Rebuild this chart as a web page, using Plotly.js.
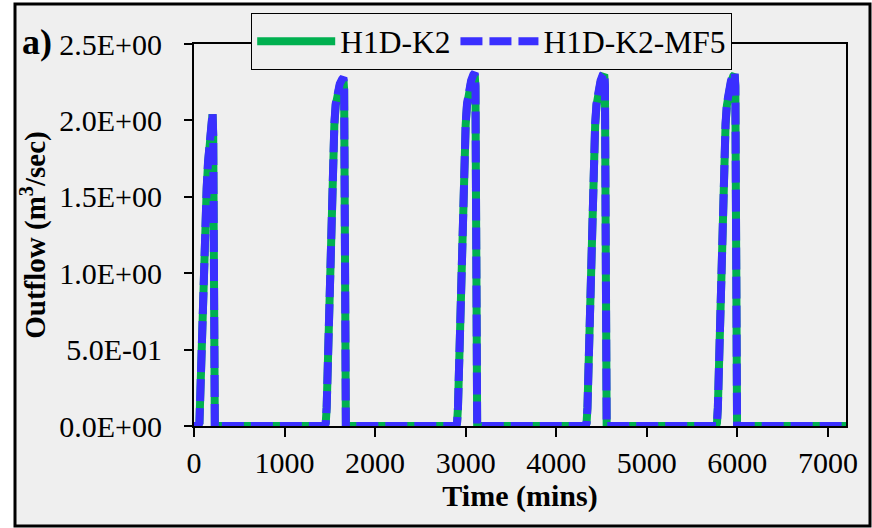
<!DOCTYPE html>
<html>
<head>
<meta charset="utf-8">
<script src="https://cdn.plot.ly/plotly-3.0.1.min.js"></script>
<style>
  html, body { margin: 0; padding: 0; background: #ffffff; }
  #chart { width: 872px; height: 528px; }
</style>
</head>
<body>
<div id="chart"></div>
<script>
// ---- Data (time in minutes, outflow in m3/s) ----
const timeMins = [
  0, 40, 60, 68, 80, 95, 110, 125, 140, 155, 170, 185, 197, 205, 212, 220, 230,
  1445, 1455, 1465, 1475, 1490, 1505, 1520, 1535, 1550, 1565, 1585, 1610, 1635, 1650, 1658, 1667, 1677,
  2895, 2905, 2915, 2925, 2940, 2955, 2970, 2985, 3000, 3015, 3035, 3060, 3085, 3100, 3108, 3117, 3127,
  4325, 4335, 4345, 4355, 4370, 4385, 4400, 4415, 4430, 4445, 4465, 4490, 4515, 4530, 4538, 4547, 4557,
  5765, 5775, 5785, 5795, 5810, 5825, 5840, 5855, 5870, 5885, 5905, 5930, 5955, 5970, 5978, 5987, 5997,
  7200
];
const outflowK2 = [
  0, 0, 0.02, 0.20, 0.55, 0.88, 1.12, 1.35, 1.55, 1.72, 1.85, 1.95, 2.02, 2.04, 1.90, 0.90, 0,
  0, 0.02, 0.12, 0.40, 0.80, 1.12, 1.45, 1.75, 1.97, 2.10, 2.18, 2.23, 2.26, 2.27, 2.20, 1.00, 0,
  0, 0.02, 0.12, 0.40, 0.80, 1.12, 1.45, 1.75, 1.97, 2.10, 2.19, 2.25, 2.29, 2.30, 2.22, 1.00, 0,
  0, 0.02, 0.12, 0.40, 0.80, 1.12, 1.45, 1.75, 1.97, 2.10, 2.19, 2.25, 2.29, 2.30, 2.22, 1.00, 0,
  0, 0.02, 0.12, 0.40, 0.80, 1.12, 1.45, 1.75, 1.97, 2.10, 2.19, 2.25, 2.29, 2.30, 2.22, 1.00, 0,
  0
];
const outflowMF5 = [
  0, 0, 0.02, 0.21, 0.56, 0.89, 1.13, 1.36, 1.56, 1.73, 1.86, 1.96, 2.03, 2.05, 1.91, 0.90, 0,
  0, 0.02, 0.12, 0.41, 0.81, 1.13, 1.46, 1.76, 1.98, 2.11, 2.19, 2.24, 2.27, 2.28, 2.21, 1.00, 0,
  0, 0.02, 0.12, 0.41, 0.81, 1.13, 1.46, 1.76, 1.98, 2.11, 2.20, 2.26, 2.30, 2.31, 2.23, 1.00, 0,
  0, 0.02, 0.12, 0.41, 0.81, 1.13, 1.46, 1.76, 1.98, 2.11, 2.20, 2.26, 2.30, 2.31, 2.23, 1.00, 0,
  0, 0.02, 0.12, 0.41, 0.81, 1.13, 1.46, 1.76, 1.98, 2.11, 2.20, 2.26, 2.30, 2.31, 2.23, 1.00, 0,
  0
];
const seriesNames = ["H1D-K2", "H1D-K2-MF5"];
const yTickValues = [0, 0.5, 1.0, 1.5, 2.0, 2.5];
const yTickLabels = ["0.0E+00", "5.0E-01", "1.0E+00", "1.5E+00", "2.0E+00", "2.5E+00"];
const xTickValues = [0, 1000, 2000, 3000, 4000, 5000, 6000, 7000];
const xTitle = "Time (mins)";
const yTitle = "Outflow (m<sup>3</sup>/sec)";
const panelLabel = "a)";

// ---- Layout geometry ----
const W = 872, H = 528;
const M = { l: 194, r: 26, t: 44, b: 102, autoexpand: false };
const pw = W - M.l - M.r, ph = H - M.t - M.b;
const px = x => (x - M.l) / pw;          // page pixel -> paper x
const py = y => (H - M.b - y) / ph;      // page pixel -> paper y

const serif = "'Liberation Serif', 'Times New Roman', serif";
const bg = "#efefef";

const traces = [
  {
    x: timeMins, y: outflowK2, name: seriesNames[0], type: "scatter", mode: "lines",
    line: { color: "#00b050", width: 8 }
  },
  {
    x: timeMins, y: outflowMF5, name: seriesNames[1], type: "scatter", mode: "lines",
    line: { color: "#3a2fff", width: 8, dash: "22px,7px" }
  }
];

const layout = {
  width: W, height: H,
  margin: M,
  paper_bgcolor: "#ffffff",
  plot_bgcolor: bg,
  font: { family: serif, size: 30, color: "#000000" },
  showlegend: true,
  legend: {
    orientation: "h",
    x: px(251), y: py(13), xanchor: "left", yanchor: "top",
    bgcolor: bg, bordercolor: "#000000", borderwidth: 1.2,
    font: { family: serif, size: 31.5, color: "#000000" },
    itemwidth: 78,
    tracegroupgap: 0
  },
  xaxis: {
    range: [0, 7200],
    tickvals: xTickValues,
    ticks: "outside", ticklen: 9, tickwidth: 2, tickcolor: "#000000",
    showline: true, linecolor: "#000000", linewidth: 2, mirror: true,
    showgrid: false, zeroline: false,
    tickfont: { family: serif, size: 30 },
    ticklabelstandoff: 0,
    automargin: false,
    title: { text: xTitle, font: { family: serif, size: 30, weight: "bold" }, standoff: 0 }
  },
  yaxis: {
    range: [0, 2.5],
    tickvals: yTickValues, ticktext: yTickLabels,
    ticks: "outside", ticklen: 8, tickwidth: 2, tickcolor: "#000000",
    showline: true, linecolor: "#000000", linewidth: 2, mirror: true,
    showgrid: false, zeroline: false,
    tickfont: { family: serif, size: 30 },
    ticklabelstandoff: 16,
    automargin: false,
    title: { text: yTitle, font: { family: serif, size: 29, weight: "bold" }, standoff: 5 }
  },
  shapes: [
    {
      type: "rect", xref: "paper", yref: "paper", layer: "below",
      x0: px(15), x1: px(870), y0: py(526), y1: py(4),
      fillcolor: bg, line: { color: "#000000", width: 3 }
    }
  ],
  annotations: [
    {
      text: "<b>" + panelLabel + "</b>", xref: "paper", yref: "paper",
      x: px(20), y: py(20), xanchor: "left", yanchor: "top", showarrow: false,
      font: { family: serif, size: 36, color: "#000000" }
    }
  ]
};

Plotly.newPlot("chart", traces, layout, { staticPlot: true, displayModeBar: false });
</script>
</body>
</html>
